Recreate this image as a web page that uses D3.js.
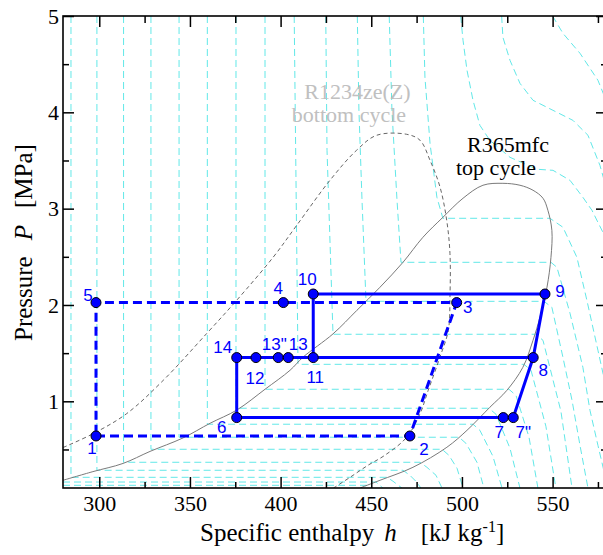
<!DOCTYPE html>
<html>
<head>
<meta charset="utf-8">
<script src="https://cdn.jsdelivr.net/npm/d3@7"></script>
<style>
  html, body { margin: 0; padding: 0; background: #fff; }
  svg { display: block; }
</style>
</head>
<body>
<svg id="chart" width="603" height="555"></svg>
<script>
// ---------- axis ticks ----------
const xMajorTicks = [300, 350, 400, 450, 500, 550];
const xMinorTicks = [325, 375, 425, 475, 525, 575];
const yMajorTicks = [1, 2, 3, 4, 5];
const yMinorTicks = [0.5, 1.5, 2.5, 3.5, 4.5];

// ---------- saturation domes [h (kJ/kg), P (MPa)] ----------
const domeR365mfc = [
  [280.0,0.180],[296.5,0.270],[313.1,0.355],[328.0,0.480],[346.2,0.620],[361.1,0.772],
  [375.9,0.910],[391.4,1.125],[405.2,1.322],[412.3,1.457],[428.9,1.700],[442.1,1.945],
  [454.8,2.184],[467.5,2.443],[478.5,2.703],[489.5,2.910],[500.6,3.108],[511.6,3.243],
  [522.6,3.263],[532.0,3.243],[539.2,3.191],[544.7,3.108],[547.4,2.983],[549.6,2.775],
  [549.1,2.495],[546.9,2.184],[543.0,1.872],[539.2,1.633],[533.6,1.353],[524.8,1.114],
  [515.4,0.938],[502.8,0.699],[491.7,0.523],[473.0,0.315],[454.8,0.180],[443.8,0.100]
];
const domeR1234zeZ = [
  [280.0,0.520],[296.7,0.665],[315.1,0.872],[335.3,1.218],[359.2,1.703],[375.8,2.049],
  [396.0,2.498],[408.9,2.827],[427.2,3.294],[441.9,3.606],[453.0,3.762],[469.5,3.772],
  [476.9,3.710],[482.4,3.502],[487.9,3.225],[491.6,2.879],[493.4,2.533],[493.4,2.083],
  [492.5,1.737],[487.9,1.460],[481.4,1.114],[476.9,0.872],[469.5,0.626],[457.5,0.440],
  [448.2,0.336],[438.3,0.211],[429.2,0.100]
];

// ---------- isotherms of R365mfc [h, P] ----------
const isotherms = [
  [[280,0.128],[447.6,0.128],[449.8,0.1]],
  [[280,0.162],[452.6,0.162],[456.4,0.1]],
  [[284.4,5],[284.4,0.211],[458.7,0.211],[462.0,0.170],[466.9,0.1]],
  [[298.7,5],[298.7,0.284],[467.5,0.284],[471.3,0.232],[474.6,0.170],[477.4,0.1]],
  [[313.4,5],[313.4,0.367],[476.9,0.367],[480.7,0.315],[485.7,0.232],[489.0,0.1]],
  [[328.5,5],[328.5,0.502],[489.0,0.502],[492.8,0.440],[497.3,0.305],[500.6,0.1]],
  [[344.0,5],[344.0,0.627],[498.4,0.627],[502.2,0.564],[508.3,0.367],[512.1,0.1]],
  [[359.6,5],[359.6,0.762],[506.1,0.762],[509.9,0.699],[517.1,0.429],[522.1,0.1]],
  [[375.4,5],[375.4,0.928],[514.9,0.928],[518.8,0.865],[526.5,0.512],[532.0,0.1]],
  [[391.4,5],[391.4,1.125],[525.9,1.125],[529.8,1.062],[537.0,0.627],[541.9,0.1]],
  [[407.5,5],[409.6,1.384],[534.2,1.384],[538.1,1.322],[546.3,0.741],[551.8,0.1]],
  [[424.9,5],[425.6,3.606],[428.9,1.696],[540.8,1.696],[544.7,1.633],[554.6,0.896],[560.7,0.1]],
  [[442.3,5],[443.2,4.021],[444.9,3.087],[447.1,2.038],[545.2,2.038],[549.6,1.976],
   [555.7,1.457],[560.7,1.011],[565.1,0.543],[569.5,0.1]],
  [[459.9,5],[461.4,4.021],[464.2,3.087],[466.4,2.443],[549.1,2.443],[552.4,2.391],
   [559.6,1.914],[566.7,1.353],[570.6,0.907],[575.0,0.543],[580.0,0.14]],
  [[478.7,5],[479.6,4.364],[482.4,3.678],[486.2,3.118],[489.5,2.900],[548.5,2.900],
   [555.7,2.807],[563.4,2.495],[568.9,2.049],[575.0,1.530],[580.0,1.10]],
  [[499.3,5],[500.6,4.748],[502.8,4.436],[506.1,4.125],[509.9,3.865],[515.4,3.710],
   [526.5,3.533],[541.4,3.409],[550.2,3.398],[559.6,3.294],[566.7,3.118],[571.7,2.983],
   [575.0,2.858],[580.0,2.67]],
  [[521.9,5],[522.6,4.779],[526.5,4.540],[532.0,4.301],[539.2,4.125],[550.2,4.021],
   [561.2,3.917],[569.5,3.762],[576.1,3.450],[580.0,3.19]],
  [[550.0,5],[555.7,4.820],[565.1,4.613],[575.0,4.333],[580.0,4.10]]
];

// ---------- bottom cycle, R1234ze(Z) ----------
const bottomLabels = ["1", "2", "3", "4", "5"];
const bottomH = [298.2, 471.3, 497.1, 401.5, 298.2];
const bottomP = [0.640, 0.640, 2.025, 2.025, 2.025];
const bottomPath = ["1", "2", "3", "4", "5", "1"];

// ---------- top cycle, R365mfc ----------
const topLabels = ["6", "7", "7\"", "8", "9", "10", "11", "12", "13\"", "13", "14"];
const topH = [375.8, 522.8, 528.3, 539.3, 545.8, 418.0, 418.0, 386.4, 398.7, 404.2, 375.8];
const topP = [0.831, 0.831, 0.831, 1.454, 2.114, 2.114, 1.454, 1.454, 1.454, 1.454, 1.454];
const topPath = ["6", "7", "7\"", "8", "9", "10", "11", "13", "13\"", "12", "14", "6"];
const topExtra = ["11", "8"];

// ---------- layout ----------
const L = 63, R = 607, T = 16, B = 488;
const x = d3.scaleLinear().domain([280, 580]).range([L, R]);
const y = d3.scaleLinear().domain([0.1, 5]).range([B, T]);

// label placement around each state point (pixels: dx to text centre, dy to baseline)
const labelOffset = {
  "1": [-4, 18], "2": [14, 19], "3": [11, 10], "4": [-5, -9], "5": [-8, -2],
  "6": [-15, 15], "7": [-4, 20], "7\"": [10, 20], "8": [10, 18], "9": [15, 3],
  "10": [-6, -9], "11": [2, 25], "12": [-1, 26], "13\"": [-4, -8], "13": [10, -8], "14": [-14, -5]
};

const svg = d3.select("#chart");
const serif = "'Liberation Serif', 'Times New Roman', Times, serif";
const sans = "'Liberation Sans', Arial, Helvetica, sans-serif";

svg.append("defs").append("clipPath").attr("id", "plotArea")
  .append("rect").attr("x", L).attr("y", T).attr("width", R - L).attr("height", B - T);

const plot = svg.append("g").attr("clip-path", "url(#plotArea)");
const line = d3.line().x(d => x(d[0])).y(d => y(d[1]));
const smooth = d3.line().x(d => x(d[0])).y(d => y(d[1])).curve(d3.curveCatmullRom.alpha(0.5));

// isotherms
plot.append("g").selectAll("path").data(isotherms).join("path")
  .attr("d", line)
  .attr("fill", "none")
  .attr("stroke", "#62e8e8")
  .attr("stroke-width", 1)
  .attr("stroke-dasharray", "7,4");

// saturation domes
plot.append("path").datum(domeR1234zeZ).attr("d", smooth)
  .attr("fill", "none").attr("stroke", "#555").attr("stroke-width", 0.9)
  .attr("stroke-dasharray", "4,3");
plot.append("path").datum(domeR365mfc).attr("d", smooth)
  .attr("fill", "none").attr("stroke", "#7a7a7a").attr("stroke-width", 1);

// cycles
const bottomPts = bottomLabels.map((l, i) => ({ label: l, h: bottomH[i], p: bottomP[i] }));
const topPts = topLabels.map((l, i) => ({ label: l, h: topH[i], p: topP[i] }));
const bMap = new Map(bottomPts.map(d => [d.label, d]));
const tMap = new Map(topPts.map(d => [d.label, d]));
const ptLine = d3.line().x(d => x(d.h)).y(d => y(d.p));

plot.append("path").datum(bottomPath.map(k => bMap.get(k))).attr("d", ptLine)
  .attr("fill", "none").attr("stroke", "#0000ff").attr("stroke-width", 3)
  .attr("stroke-dasharray", "9,5");

plot.append("path").datum(topPath.map(k => tMap.get(k))).attr("d", ptLine)
  .attr("fill", "none").attr("stroke", "#0000ff").attr("stroke-width", 3);
plot.append("path").datum(topExtra.map(k => tMap.get(k))).attr("d", ptLine)
  .attr("fill", "none").attr("stroke", "#0000ff").attr("stroke-width", 3);

const allPts = bottomPts.concat(topPts);
plot.append("g").selectAll("circle").data(allPts).join("circle")
  .attr("cx", d => x(d.h)).attr("cy", d => y(d.p)).attr("r", 5)
  .attr("fill", "#0000ff").attr("stroke", "#000").attr("stroke-width", 1);

svg.append("g").selectAll("text").data(allPts).join("text")
  .attr("x", d => x(d.h) + labelOffset[d.label][0])
  .attr("y", d => y(d.p) + labelOffset[d.label][1])
  .attr("text-anchor", "middle")
  .attr("font-family", sans).attr("font-size", 17).attr("fill", "#0000ff")
  .text(d => d.label);

// fluid / cycle annotations
const notes = [
  { t: "R1234ze(Z)", h: 442.4, p: 4.138, c: "#c0c0c0" },
  { t: "bottom cycle", h: 437.7, p: 3.898, c: "#c0c0c0" },
  { t: "R365mfc", h: 525.4, p: 3.591, c: "#000" },
  { t: "top cycle", h: 518.8, p: 3.349, c: "#000" }
];
svg.append("g").selectAll("text").data(notes).join("text")
  .attr("x", d => x(d.h)).attr("y", d => y(d.p))
  .attr("text-anchor", "middle")
  .attr("font-family", serif).attr("font-size", 22).attr("fill", d => d.c)
  .text(d => d.t);

// axes: inward ticks on all four sides
function styleAxis(g) {
  g.select(".domain").remove();
  g.selectAll(".tick line").attr("stroke", "#000").attr("stroke-width", 1.5);
  g.selectAll(".tick text").attr("font-family", serif).attr("font-size", 22).attr("fill", "#000");
}
svg.append("g").attr("transform", `translate(0,${B})`)
  .call(d3.axisBottom(x).tickValues(xMajorTicks).tickSize(-11).tickPadding(7).tickFormat(d3.format("d")))
  .call(styleAxis);
svg.append("g").attr("transform", `translate(0,${B})`)
  .call(d3.axisBottom(x).tickValues(xMinorTicks).tickSize(-6).tickFormat(""))
  .call(styleAxis);
svg.append("g").attr("transform", `translate(0,${T})`)
  .call(d3.axisTop(x).tickValues(xMajorTicks).tickSize(-11).tickFormat(""))
  .call(styleAxis);
svg.append("g").attr("transform", `translate(0,${T})`)
  .call(d3.axisTop(x).tickValues(xMinorTicks).tickSize(-7).tickFormat(""))
  .call(styleAxis);
svg.append("g").attr("transform", `translate(${L},0)`)
  .call(d3.axisLeft(y).tickValues(yMajorTicks).tickSize(-11).tickPadding(4).tickFormat(d3.format("d")))
  .call(styleAxis);
svg.append("g").attr("transform", `translate(${L},0)`)
  .call(d3.axisLeft(y).tickValues(yMinorTicks).tickSize(-6).tickFormat(""))
  .call(styleAxis);
svg.append("g").attr("transform", `translate(${R},0)`)
  .call(d3.axisRight(y).tickValues(yMajorTicks).tickSize(-11).tickFormat(""))
  .call(styleAxis);
svg.append("g").attr("transform", `translate(${R},0)`)
  .call(d3.axisRight(y).tickValues(yMinorTicks).tickSize(-6).tickFormat(""))
  .call(styleAxis);

// frame
svg.append("rect").attr("x", L).attr("y", T).attr("width", R - L).attr("height", B - T)
  .attr("fill", "none").attr("stroke", "#000").attr("stroke-width", 1.6);

// axis titles
const xt = svg.append("text").attr("x", 200).attr("y", 541)
  .attr("font-family", serif).attr("font-size", 25).attr("fill", "#000");
xt.append("tspan").text("Specific enthalpy");
xt.append("tspan").attr("dx", 10).attr("font-style", "italic").text("h");
xt.append("tspan").attr("dx", 24).text("[kJ kg");
xt.append("tspan").attr("dy", -9).attr("font-size", 16).text("-1");
xt.append("tspan").attr("dy", 9).text("]");

const yt = svg.append("text").attr("transform", "translate(32,341) rotate(-90)")
  .attr("font-family", serif).attr("font-size", 25).attr("fill", "#000");
yt.append("tspan").text("Pressure");
yt.append("tspan").attr("dx", 16).attr("font-style", "italic").text("P");
yt.append("tspan").attr("dx", 17).text("[MPa]");
</script>
</body>
</html>
